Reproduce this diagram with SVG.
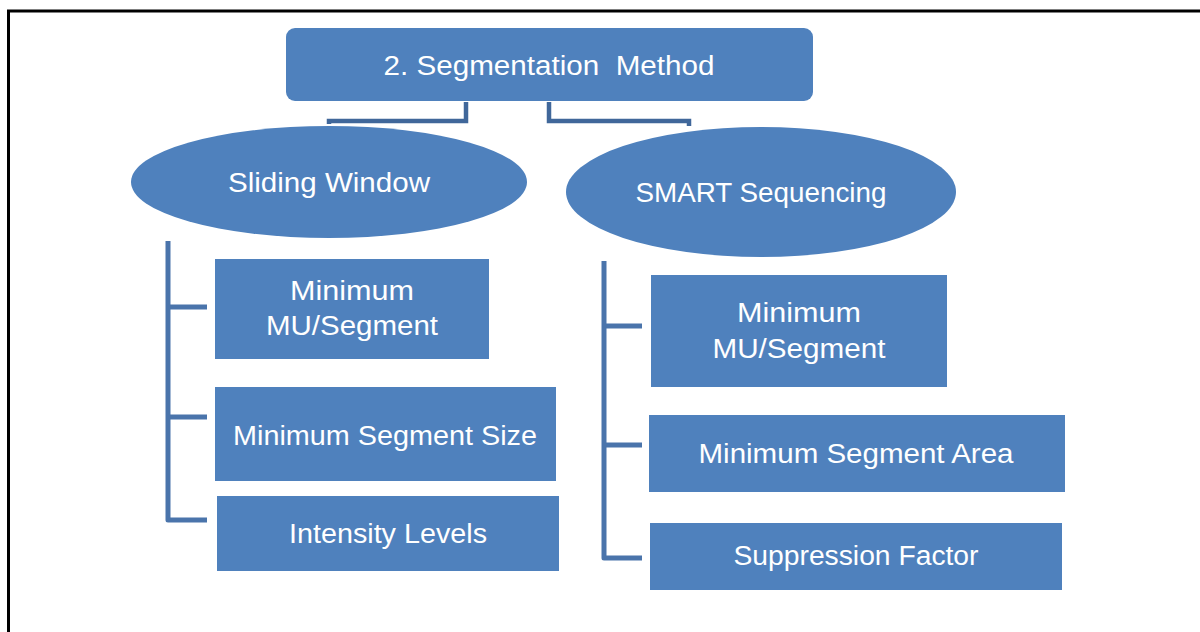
<svg xmlns="http://www.w3.org/2000/svg" width="1200" height="632" viewBox="0 0 1200 632">
<style>
.box{fill:#4f81bd;}
.t{fill:#ffffff;font-family:"Liberation Sans",Arial,sans-serif;font-size:27px;text-anchor:middle;}
.tree{fill:none;stroke:#4a74ab;stroke-width:5;stroke-linejoin:round;}
.top{fill:none;stroke:#40679a;stroke-width:4.5;}
</style>
<rect x="0" y="0" width="1200" height="632" fill="#ffffff"/>
<path d="M8.5 632 V11 H1200" fill="none" stroke="#000000" stroke-width="3"/>
<g id="connectors">
<path class="top" d="M466 102 V121 H329 V124"/>
<path class="top" d="M549 102 V121 H689 V126"/>
<path class="tree" d="M168 241 V520 H207 M168 307 H207 M168 417 H207"/>
<path class="tree" d="M604 261 V558 H642 M604 326 H642 M604 445 H642"/>
</g>
<g id="root">
<rect class="box" x="286" y="28" width="527" height="73" rx="9"/>
<text class="t" x="549" y="75" textLength="331" lengthAdjust="spacingAndGlyphs" xml:space="preserve" style="white-space:pre">2. Segmentation  Method</text>
</g>
<g id="sliding-window">
<ellipse class="box" cx="329" cy="182" rx="198" ry="56"/>
<text class="t" x="329" y="192" textLength="202" lengthAdjust="spacingAndGlyphs">Sliding Window</text>
</g>
<g id="smart-sequencing">
<ellipse class="box" cx="761" cy="192" rx="195" ry="65"/>
<text class="t" x="761" y="202" textLength="251" lengthAdjust="spacingAndGlyphs">SMART Sequencing</text>
</g>
<g id="sw-min-mu">
<rect class="box" x="215" y="259" width="274" height="100"/>
<text class="t" x="352" y="300" textLength="124" lengthAdjust="spacingAndGlyphs">Minimum</text>
<text class="t" x="352" y="335" textLength="172" lengthAdjust="spacingAndGlyphs">MU/Segment</text>
</g>
<g id="sw-min-size">
<rect class="box" x="215" y="387" width="341" height="94"/>
<text class="t" x="385" y="445" textLength="304" lengthAdjust="spacingAndGlyphs">Minimum Segment Size</text>
</g>
<g id="sw-intensity">
<rect class="box" x="217" y="496" width="342" height="75"/>
<text class="t" x="388" y="543" textLength="198" lengthAdjust="spacingAndGlyphs">Intensity Levels</text>
</g>
<g id="ss-min-mu">
<rect class="box" x="651" y="275" width="296" height="112"/>
<text class="t" x="799" y="322" textLength="124" lengthAdjust="spacingAndGlyphs">Minimum</text>
<text class="t" x="799" y="358" textLength="173" lengthAdjust="spacingAndGlyphs">MU/Segment</text>
</g>
<g id="ss-min-area">
<rect class="box" x="649" y="415" width="416" height="77"/>
<text class="t" x="856" y="463" textLength="315" lengthAdjust="spacingAndGlyphs">Minimum Segment Area</text>
</g>
<g id="ss-suppression">
<rect class="box" x="650" y="523" width="412" height="67"/>
<text class="t" x="856" y="565" textLength="245" lengthAdjust="spacingAndGlyphs">Suppression Factor</text>
</g>
</svg>
